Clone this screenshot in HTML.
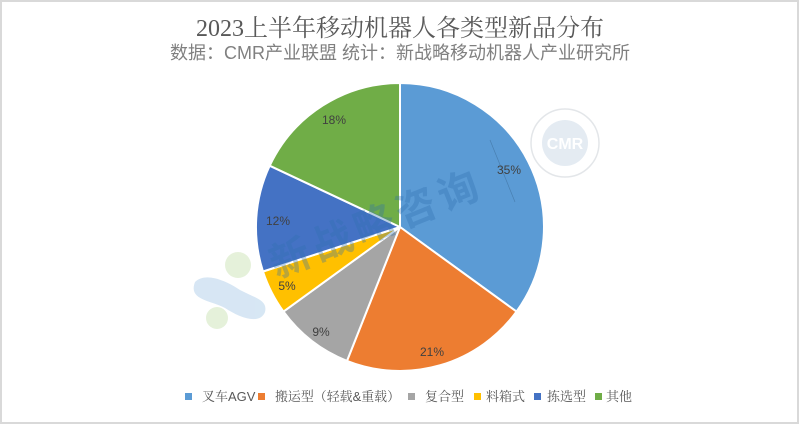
<!DOCTYPE html>
<html><head><meta charset="utf-8"><style>
html,body{margin:0;padding:0;background:#fff;}
svg{display:block;}
</style></head><body>
<svg width="800" height="425" viewBox="0 0 800 425" xmlns="http://www.w3.org/2000/svg">
<rect x="1" y="1" width="797" height="422" fill="#fff" stroke="#d9d9d9" stroke-width="2"/>
<text x="400" y="36" text-anchor="middle" font-family="'Liberation Serif','Noto Serif CJK SC',serif" font-size="24" fill="#595959">2023上半年移动机器人各类型新品分布</text>
<text x="400" y="59" text-anchor="middle" font-family="'Liberation Sans','Noto Sans CJK SC',sans-serif" font-size="18" fill="#808080">数据：CMR产业联盟 统计：新战略移动机器人产业研究所</text>

<!-- left blobs watermark -->
<g opacity="0.9">
<circle cx="238" cy="265" r="13" fill="#e3f0d6"/>
<path d="M195 282 C205 272,225 280,240 290 C255 298,268 300,265 312 C260 325,240 318,225 308 C210 300,188 300,195 282 Z" fill="#d3e4f3"/>
<circle cx="217" cy="318" r="11" fill="#e3f0d6"/>
</g>

<!-- pie -->
<g stroke="#fff" stroke-width="2" stroke-linejoin="round">
<path d="M400 227 L400 83 A144 144 0 0 1 516.5 311.6 Z" fill="#5b9bd5"/>
<path d="M400 227 L516.5 311.6 A144 144 0 0 1 347.0 360.9 Z" fill="#ed7d31"/>
<path d="M400 227 L347.0 360.9 A144 144 0 0 1 283.5 311.6 Z" fill="#a5a5a5"/>
<path d="M400 227 L283.5 311.6 A144 144 0 0 1 263.0 271.5 Z" fill="#ffc000"/>
<path d="M400 227 L263.0 271.5 A144 144 0 0 1 269.7 165.7 Z" fill="#4472c4"/>
<path d="M400 227 L269.7 165.7 A144 144 0 0 1 400 83 Z" fill="#70ad47"/>
</g>
<line x1="490" y1="140" x2="515" y2="202" stroke="#3d6d99" stroke-width="0.7" opacity="0.6"/>

<!-- CMR logo watermark -->
<g opacity="0.65">
<circle cx="565" cy="143" r="34" fill="none" stroke="#d5d9de" stroke-width="1.5"/>
<circle cx="565" cy="143" r="23" fill="#d6e1ec"/>
<text x="565" y="149" text-anchor="middle" font-family="'Liberation Sans',sans-serif" font-weight="bold" font-size="16" fill="#fff">CMR</text>
</g>

<!-- 新战略咨询 watermark -->
<g font-family="'Noto Sans CJK SC',sans-serif" font-weight="bold" font-size="40" fill="#2f6fb0" opacity="0.33" text-anchor="middle">
<text transform="translate(290 258) rotate(-22)" x="0" y="14">新</text>
<text transform="translate(332 241) rotate(-22)" x="0" y="14">战</text>
<text transform="translate(374 224.5) rotate(-22)" x="0" y="14">略</text>
<text transform="translate(416 208) rotate(-22)" x="0" y="14">咨</text>
<text transform="translate(458 191) rotate(-22)" x="0" y="14">询</text>
</g>

<!-- labels -->
<g font-family="'Liberation Sans',sans-serif" font-size="12" fill="#404040" text-anchor="middle">
<text x="509" y="174">35%</text>
<text x="432" y="356">21%</text>
<text x="321" y="336">9%</text>
<text x="287" y="290">5%</text>
<text x="278" y="225">12%</text>
<text x="334" y="124">18%</text>
</g>

<!-- legend -->
<g font-family="'Liberation Sans','Noto Serif CJK SC',serif" font-size="13" fill="#595959">
<rect x="185" y="393" width="7" height="7" fill="#5b9bd5"/>
<text x="202" y="401">叉车AGV</text>
<rect x="258" y="393" width="7" height="7" fill="#ed7d31"/>
<text x="275" y="401" textLength="125" lengthAdjust="spacingAndGlyphs">搬运型（轻载&amp;重载）</text>
<rect x="408" y="393" width="7" height="7" fill="#a5a5a5"/>
<text x="425" y="401">复合型</text>
<rect x="474" y="393" width="7" height="7" fill="#ffc000"/>
<text x="486" y="401">料箱式</text>
<rect x="534" y="393" width="7" height="7" fill="#4472c4"/>
<text x="547" y="401">拣选型</text>
<rect x="595" y="393" width="7" height="7" fill="#70ad47"/>
<text x="606" y="401">其他</text>
</g>
</svg>
</body></html>
